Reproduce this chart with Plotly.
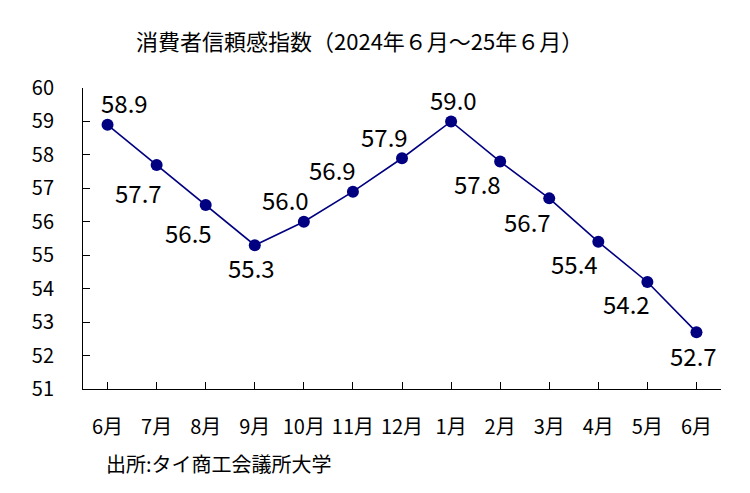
import plotly.graph_objects as go

months = ["6月", "7月", "8月", "9月", "10月", "11月", "12月", "1月", "2月", "3月", "4月", "5月", "6月"]
values = [58.9, 57.7, 56.5, 55.3, 56.0, 56.9, 57.9, 59.0, 57.8, 56.7, 55.4, 54.2, 52.7]
label_text = ["58.9", "57.7", "56.5", "55.3", "56.0", "56.9", "57.9", "59.0", "57.8", "56.7", "55.4", "54.2", "52.7"]
label_dx = [17, -18, -17, -3, -18, -20, -18, 2, -23, -22, -24, -21, -3]
label_dy = [22, -28, -27, -22, 22, 22, 22, 22, -22, -23, -22, -22, -23]
y_ticks = [51, 52, 53, 54, 55, 56, 57, 58, 59, 60]

FONT = "Noto Sans CJK JP, Noto Sans, sans-serif"
NAVY = "#000080"

x_idx = list(range(len(months)))

L, R, T, B = 83, 29, 88, 104
PW, PH = 750 - L - R, 493 - T - B

fig = go.Figure()
fig.add_trace(go.Scatter(
    x=x_idx, y=values, mode="lines+markers",
    line=dict(color=NAVY, width=1.6),
    marker=dict(color=NAVY, size=12),
    hoverinfo="skip", showlegend=False,
))

for i, v in enumerate(values):
    fig.add_annotation(x=x_idx[i], y=v, text=label_text[i], showarrow=False,
                       xshift=label_dx[i], yshift=label_dy[i],
                       font=dict(family=FONT, size=24, color="#000000"))

fig.add_annotation(xref="paper", yref="paper", x=(359 - L) / PW, y=1 + (T - 40) / PH,
                   xanchor="center", yanchor="middle",
                   text="消費者信頼感指数（2024年６月～25年６月）", showarrow=False,
                   font=dict(family=FONT, size=22, color="#000000"))
fig.add_annotation(xref="paper", yref="paper", x=(104 - L) / PW, y=-(463 - (493 - B)) / PH,
                   xanchor="left", yanchor="middle",
                   text="出所:タイ商工会議所大学", showarrow=False,
                   font=dict(family=FONT, size=20, color="#000000"))

fig.update_layout(
    width=750, height=493,
    margin=dict(l=L, r=R, t=T, b=B),
    paper_bgcolor="white", plot_bgcolor="white",
    font=dict(family=FONT, color="#000000"),
    xaxis=dict(
        range=[-0.5, len(months) - 0.5], automargin=False,
        tickmode="array", tickvals=x_idx, ticktext=months,
        tickson="boundaries", ticks="inside", ticklen=7, tickcolor="#000000",
        showline=True, linecolor="#000000", linewidth=1,
        showgrid=False, zeroline=False,
        ticklabelstandoff=20,
        tickfont=dict(family=FONT, size=20),
    ),
    yaxis=dict(
        range=[51, 60], automargin=False,
        tickmode="array", tickvals=y_ticks,
        ticks="inside", ticklen=7, tickcolor="#000000",
        showline=True, linecolor="#000000", linewidth=1,
        showgrid=False, zeroline=False,
        ticklabelstandoff=24,
        tickfont=dict(family=FONT, size=20),
    ),
)

fig.write_html("out.html", config={"displayModeBar": False, "staticPlot": True},
               post_script="document.body.style.margin='0';document.body.style.overflow='hidden';")
